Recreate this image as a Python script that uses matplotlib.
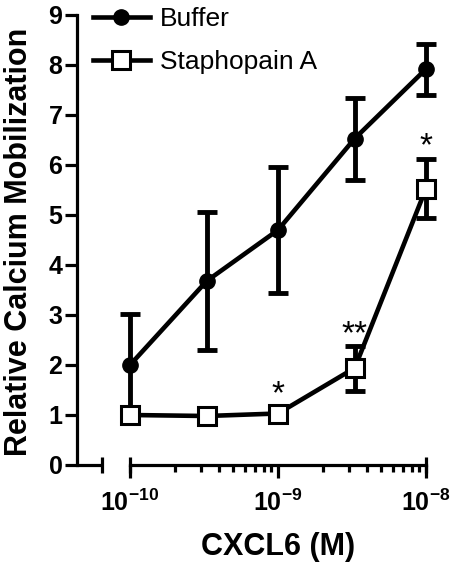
import numpy as np
import matplotlib
matplotlib.use("Agg")
import matplotlib.pyplot as plt
from matplotlib.ticker import FixedLocator, FixedFormatter, NullFormatter

plt.rcParams['font.family'] = ['Liberation Sans', 'DejaVu Sans']
plt.rcParams['mathtext.fontset'] = 'custom'
plt.rcParams['mathtext.rm'] = 'Liberation Sans'
plt.rcParams['mathtext.bf'] = 'Liberation Sans:bold'

# CXCL6 concentration (M)
conc = [1e-10, 3.3e-10, 1e-9, 3.3e-9, 1e-8]

# relative calcium mobilization, mean and error (nan = bar hidden by marker)
buffer_mean = [2.0, 3.68, 4.70, 6.53, 7.92]
buffer_err = [1.02, 1.37, 1.26, 0.82, 0.51]
stapho_mean = [1.0, 0.98, 1.03, 1.94, 5.53]
stapho_err = [np.nan, np.nan, np.nan, 0.45, 0.60]

# significance marks above the Staphopain A points
sig_x = [1e-9, 3.3e-9, 1e-8]
sig_y = [1.41, 2.61, 6.36]
sig_txt = ['*', '**', '*']

x_ticks = [1e-10, 1e-9, 1e-8]
x_ticklabels = [r'$\mathbf{10^{-10}}$', r'$\mathbf{10^{-9}}$', r'$\mathbf{10^{-8}}$']
y_ticks = list(range(10))

fig = plt.figure(figsize=(4.53, 5.63), dpi=100)
ax = fig.add_axes([77 / 453, 98 / 563, 349 / 453, 450 / 563])

# error bars first, then lines + markers on top
for mean, err in [(buffer_mean, buffer_err), (stapho_mean, stapho_err)]:
    eb = ax.errorbar(conc, mean, yerr=err, fmt='none', ecolor='black',
                     elinewidth=3.5, capsize=7.5, capthick=3.5, zorder=2)
    for art in eb.lines[1] + eb.lines[2]:
        art.set_clip_on(False)

ax.plot(conc, buffer_mean, color='black', lw=3.3, marker='o', ms=11,
        mfc='black', mec='black', label='Buffer', zorder=3, clip_on=False)
ax.plot(conc, stapho_mean, color='black', lw=3.3, marker='s', ms=13,
        mfc='white', mec='black', mew=2.2, label='Staphopain A', zorder=4,
        clip_on=False)

for xs, ys, t in zip(sig_x, sig_y, sig_txt):
    ax.text(xs, ys, t, ha='center', va='center', fontsize=24)

ax.set_xscale('log')
xmin = 10 ** -10.358
xbreak = 10 ** -10.19
ax.set_xlim(xmin, 1e-8)
ax.set_ylim(0, 9)

for s in ['top', 'right']:
    ax.spines[s].set_visible(False)
ax.spines['left'].set_linewidth(2.3)
ax.spines['bottom'].set_linewidth(2.3)
ax.spines['bottom'].set_bounds(1e-10, 1e-8)

# broken x axis: short stub next to the y axis plus end caps
ax.plot([xmin, xbreak], [0, 0], color='black', lw=2.3, clip_on=False,
        solid_capstyle='butt', zorder=5)
ax.plot([xbreak, 1e-10, 1e-8], [0, 0, 0], ls='none', marker='|', ms=12,
        mew=2.3, color='black', clip_on=False, zorder=5)

ax.xaxis.set_major_locator(FixedLocator(x_ticks))
ax.xaxis.set_major_formatter(FixedFormatter(x_ticklabels))
minors = [k * 10.0 ** e for e in (-10, -9) for k in range(2, 10)]
ax.xaxis.set_minor_locator(FixedLocator(minors))
ax.xaxis.set_minor_formatter(NullFormatter())
ax.tick_params(axis='x', which='major', direction='out', length=9, width=2.3,
               labelsize=18, pad=9)
ax.tick_params(axis='x', which='minor', direction='out', length=5, width=2.3)

ax.set_yticks(y_ticks)
ax.tick_params(axis='y', direction='out', length=8.5, width=2.3, labelsize=18, pad=2)
for lab in ax.get_yticklabels():
    lab.set_fontweight('bold')

ax.set_ylabel('Relative Calcium Mobilization', fontsize=22, fontweight='bold')
ax.yaxis.set_label_coords(-0.123, 0.496)
ax.set_xlabel('CXCL6 (M)', fontsize=22, fontweight='bold')
ax.xaxis.set_label_coords(0.576, -0.15)

ax.legend(loc='upper left', bbox_to_anchor=(0.046, 1.017), frameon=False,
          fontsize=19, handlelength=2.15, handletextpad=0.37, borderpad=0,
          borderaxespad=0, labelspacing=0.7)

fig.savefig('out.png', dpi=100)
